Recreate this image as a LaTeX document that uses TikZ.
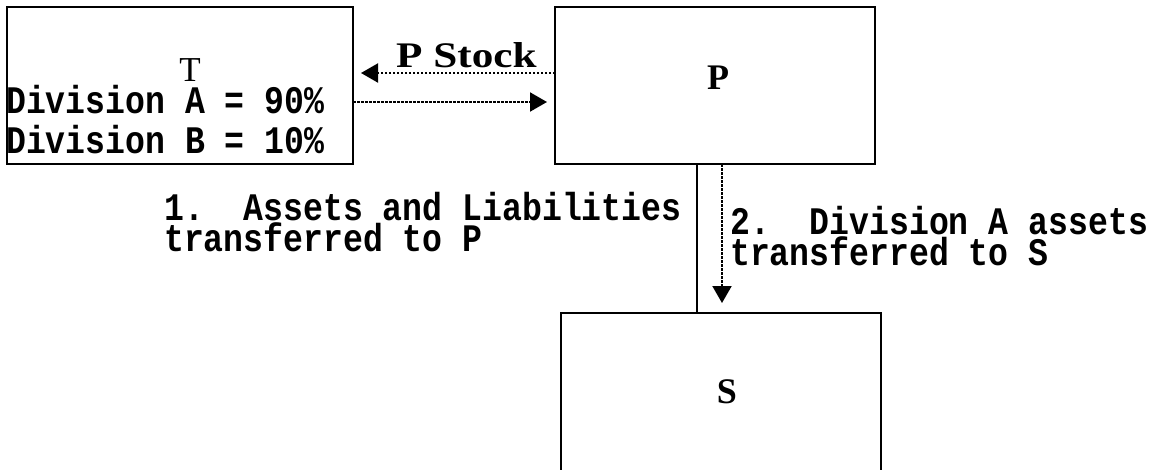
\documentclass[tikz,border=0pt]{standalone}
\usepackage{fontspec}
\usetikzlibrary{arrows.meta}
\newfontfamily\monofnt[FakeStretch=0.85]{Liberation Mono}
\newfontfamily\seriffnt{Liberation Serif}
\newfontfamily\serifwide[FakeStretch=1.2]{Liberation Serif}
\begin{document}
\begin{tikzpicture}[x=1pt,y=-1pt,
  box/.style={draw, line width=2.5pt, inner sep=0pt, outer sep=0pt},
  monotxt/.style={font=\monofnt\bfseries\fontsize{39}{27}\selectfont, inner sep=0pt, anchor=base west, align=left},
  letter/.style={font=\seriffnt\bfseries\fontsize{36}{36}\selectfont, inner sep=0pt, anchor=base},
  solidline/.style={line width=2.5pt},
  dotarrow/.style={line width=2pt, dash pattern=on 2.5pt off 1.5pt, -{Triangle[length=17pt,width=19pt]}}]
\useasboundingbox[fill=white] (0,0) rectangle (1163,469);
% boxes
\node[box, minimum width=346pt, minimum height=157pt] (T) at (180,85.5) {};
\node[box, minimum width=320pt, minimum height=157pt] (P) at (715,85.5) {};
\node[box, minimum width=320pt, minimum height=159pt] (S) at (721,392.5) {};
% box texts
\node[inner sep=0pt, anchor=base, font=\seriffnt\fontsize{35}{35}\selectfont] (Tlab) at (190,81) {T};
\node[monotxt, font=\monofnt\bfseries\fontsize{39}{40}\selectfont] (Tdiv) at (6,153) {Division A = 90\%\\Division B = 10\%};
\node[letter] (Plab) at (718,89) {P};
\node[letter] (Slab) at (727,403) {S};
% connector labels
\node[inner sep=0pt, anchor=base west, font=\serifwide\bfseries\fontsize{36}{36}\selectfont] (stock) at (396,67) {P Stock};
\node[monotxt] (l1) at (164,251) {1.\ \ Assets and Liabilities\\transferred to P};
\node[monotxt] (l2) at (730,265) {2.\ \ Division A assets\\transferred to S};
% connector ends
\coordinate (sx) at (697,0);
\coordinate (dx) at (722,0);
\coordinate (dtip) at (722,303);
\coordinate (ltip) at (361,73);
\coordinate (rtip) at (547,102);
% connectors
\draw[solidline] (P.south -| sx) -- (S.north -| sx);
\draw[dotarrow] (P.south -| dx) -- (dtip);
\draw[dotarrow] (P.west |- ltip) -- (ltip);
\draw[dotarrow] (T.east |- rtip) -- (rtip);
\end{tikzpicture}
\end{document}
